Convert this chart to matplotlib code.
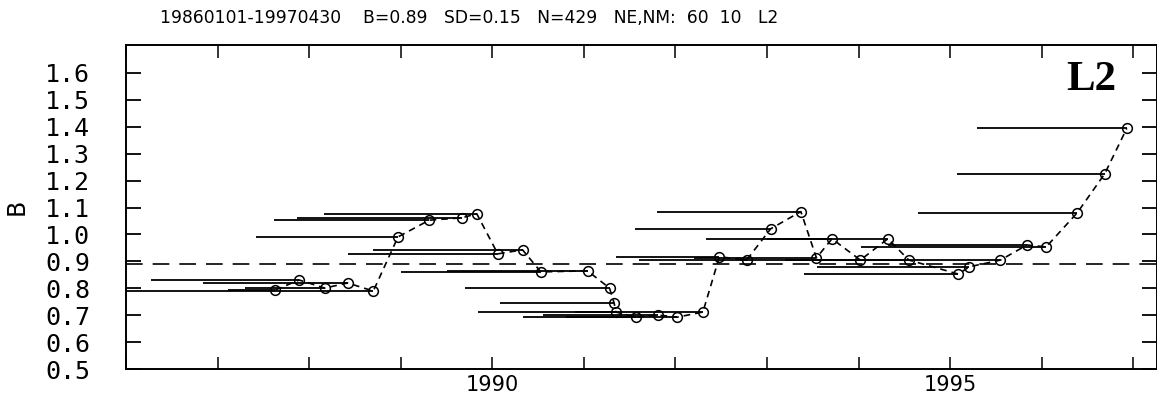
import matplotlib
matplotlib.use("Agg")
import matplotlib.pyplot as plt
from matplotlib.ticker import MultipleLocator, FixedLocator

# mid-points of each window (decimal year) and the B value
yr = [1987.63, 1987.89, 1988.17, 1988.42, 1988.70, 1988.97, 1989.31, 1989.67, 1989.83, 1990.06,
      1990.33, 1990.53, 1991.04, 1991.28, 1991.33, 1991.35, 1991.57, 1991.81, 1992.02, 1992.30,
      1992.48, 1992.78, 1993.04, 1993.37, 1993.54, 1993.71, 1994.02, 1994.32, 1994.55, 1995.09,
      1995.21, 1995.55, 1995.84, 1996.05, 1996.39, 1996.69, 1996.93]
val = [0.794, 0.831, 0.801, 0.820, 0.790, 0.991, 1.053, 1.062, 1.077, 0.928,
       0.943, 0.861, 0.865, 0.801, 0.746, 0.712, 0.693, 0.701, 0.693, 0.712,
       0.917, 0.906, 1.021, 1.085, 0.913, 0.984, 0.905, 0.984, 0.905, 0.853,
       0.880, 0.905, 0.961, 0.954, 1.081, 1.226, 1.394]
# start of the data window for each point
start = [1987.11, 1986.27, 1987.30, 1986.84, 1985.90, 1987.42, 1987.62, 1987.87, 1988.16, 1988.42,
         1988.70, 1989.00, 1989.50, 1989.70, 1990.08, 1989.84, 1990.34, 1990.55, 1990.80, 1990.90,
         1991.35, 1991.60, 1991.56, 1991.80, 1992.20, 1992.33, 1992.70, 1993.00, 1993.20, 1993.40,
         1993.55, 1994.00, 1994.32, 1994.03, 1994.65, 1995.08, 1995.29]

b_mean = 0.89
title = "19860101-19970430    B=0.89   SD=0.15   N=429   NE,NM:  60  10   L2"
yticks = [0.5, 0.6, 0.7, 0.8, 0.9, 1.0, 1.1, 1.2, 1.3, 1.4, 1.5, 1.6]
xlabels = {1990: "1990", 1995: "1995"}

fig = plt.figure(figsize=(11.57, 4.03), dpi=100)
ax = fig.add_axes([0.109, 0.084, 0.891, 0.804])

# window lines
ax.hlines(val, start, yr, color="black", lw=1.3)
# mean line
ax.axhline(b_mean, color="black", lw=1.2, ls=(0, (10, 6)))
# connecting dashed line with open circles
ax.plot(yr, val, color="black", lw=1.2, ls=(0, (4, 3)), marker="o", ms=7,
        mfc="none", mec="black", mew=1.1)

ax.set_xlim(1986, 1997.26)
ax.set_ylim(0.5, 1.703)

ax.yaxis.set_major_locator(FixedLocator(yticks))
ax.set_yticklabels(["%.1f" % v for v in yticks], family="DejaVu Sans Mono", fontsize=18)
ax.xaxis.set_major_locator(FixedLocator(list(xlabels.keys())))
ax.xaxis.set_minor_locator(MultipleLocator(1))
ax.set_xticklabels(list(xlabels.values()), fontsize=15,
                   family=["Liberation Sans Narrow", "DejaVu Sans"])

ax.tick_params(axis="y", which="both", direction="in", length=11, width=1.3,
               left=True, right=True, pad=26)
ax.tick_params(axis="x", which="both", direction="in", length=9, width=1.1,
               top=True, bottom=True, pad=4)
for s in ax.spines.values():
    s.set_linewidth(1.4)

ax.set_ylabel("B", fontsize=17, labelpad=12)

ax.text(0.961, 0.95, "L2", transform=ax.transAxes, ha="right", va="top",
        fontsize=31, fontweight="bold", family="Liberation Serif")

fig.text(160 / 1157, 1 - 18 / 403, title, ha="left", va="center", fontsize=12.3)

fig.savefig("out.png", dpi=100)
